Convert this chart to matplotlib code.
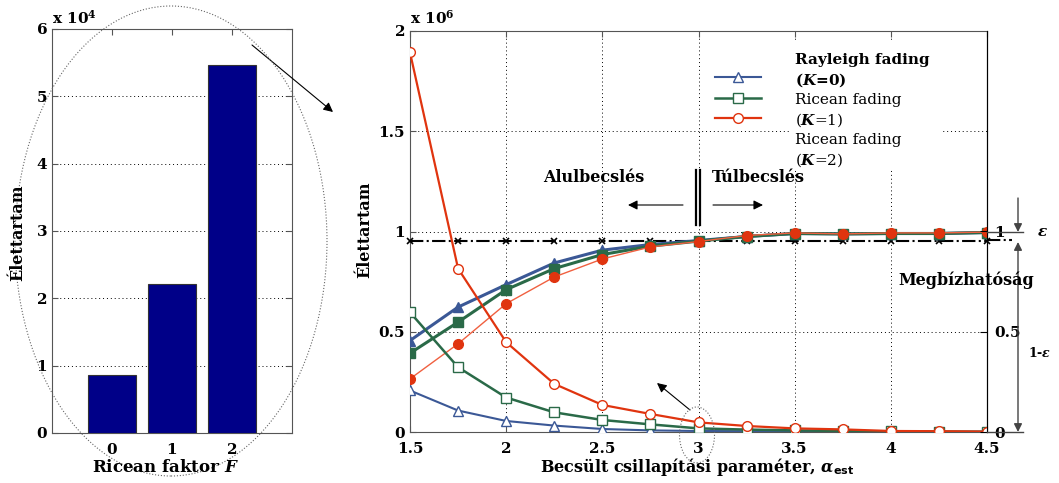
import matplotlib.pyplot as plt
from matplotlib.patches import Ellipse, Rectangle, FancyArrowPatch
from matplotlib.lines import Line2D

plt.rcParams['font.family'] = ['DejaVu Serif']
plt.rcParams['font.weight'] = 'bold'
plt.rcParams['mathtext.fontset'] = 'dejavuserif'

W, H = 1059, 483

# bar chart, lifetime in units of 10^4
ricean_k = [0, 1, 2]
lifetime_k = [0.86, 2.21, 5.47]

# line chart, lifetime in units of 10^6
alpha_est = [1.5, 1.75, 2.0, 2.25, 2.5, 2.75, 3.0, 3.25, 3.5, 3.75, 4.0, 4.25, 4.5]
ray_life = [0.207, 0.107, 0.055, 0.032, 0.015, 0.008, 0.005, 0.004, 0.003, 0.002, 0.002, 0.001, 0.001]
rice1_life = [0.597, 0.323, 0.172, 0.098, 0.060, 0.038, 0.018, 0.012, 0.008, 0.005, 0.003, 0.002, 0.001]
rice2_life = [1.893, 0.815, 0.448, 0.240, 0.135, 0.090, 0.048, 0.030, 0.018, 0.013, 0.005, 0.004, 0.002]
ray_rel = [0.456, 0.623, 0.735, 0.843, 0.907, 0.935, 0.955, 0.975, 0.990, 0.988, 0.990, 0.990, 0.995]
rice1_rel = [0.393, 0.548, 0.710, 0.815, 0.885, 0.927, 0.952, 0.975, 0.990, 0.988, 0.990, 0.990, 0.995]
rice2_rel = [0.265, 0.440, 0.640, 0.773, 0.863, 0.923, 0.950, 0.980, 0.993, 0.988, 0.993, 0.993, 0.997]
rel_target = 0.955

blue = '#3b5896'
green = '#2a6a48'
red = '#e0340f'
frame = '#555555'
grid_ls = (0, (1, 3))


def fx(px):
    return px / W


def fy(py):
    return 1 - py / H


fig = plt.figure(figsize=(W / 100, H / 100), dpi=100)

# ---- left: bar chart
ax1 = fig.add_axes([fx(52), fy(433), 240 / W, 404 / H])
ax1.bar(ricean_k, lifetime_k, width=0.8, color='#000088', edgecolor='#333333', lw=0.8, zorder=3)
ax1.set_xlim(-1, 3)
ax1.set_ylim(0, 6)
ax1.set_xticks(ricean_k)
ax1.set_yticks(range(7))
ax1.grid(axis='y', ls=grid_ls, color='k', lw=0.7)
ax1.tick_params(direction='in', top=True, right=True, labelsize=11, length=4, color=frame)
ax1.tick_params(axis='x', pad=7)
for s in ax1.spines.values():
    s.set_color(frame)
fig.text(fx(52), fy(18), 'x 10$^{4}$', fontsize=11, va='center', ha='left')
fig.text(fx(18), fy(233), 'Élettartam', rotation=90, fontsize=11.5, va='center', ha='center')
fig.text(fx(166), fy(467), 'Ricean faktor $F$', fontsize=12, va='center', ha='center')

# ---- right: line chart
ax2 = fig.add_axes([fx(410), fy(432), 577 / W, 401 / H])
ax2.plot(alpha_est, ray_rel, color=blue, lw=2.2, marker='^', ms=7, mfc=blue, zorder=4)
ax2.plot(alpha_est, rice1_rel, color=green, lw=2.2, marker='s', ms=7, mfc=green, zorder=4)
ax2.plot(alpha_est, rice2_rel, color='#f06040', lw=1, marker='o', ms=7, mfc=red, mec=red, zorder=4)
l1, = ax2.plot(alpha_est, ray_life, color=blue, lw=1.5, marker='^', ms=7, mfc='white', zorder=4)
l2, = ax2.plot(alpha_est, rice1_life, color=green, lw=1.8, marker='s', ms=7, mfc='white', zorder=4)
l3, = ax2.plot(alpha_est, rice2_life, color=red, lw=1.6, marker='o', ms=7, mfc='white', zorder=4)
ax2.plot(alpha_est, [rel_target] * len(alpha_est), color='k', ls='-.', lw=1.5,
         marker='x', ms=4, mew=1.2, clip_on=False, zorder=3)
ax2.set_xlim(1.5, 4.5)
ax2.set_ylim(0, 2)
ax2.set_xticks([1.5, 2, 2.5, 3, 3.5, 4, 4.5])
ax2.set_xticklabels(['1.5', '2', '2.5', '3', '3.5', '4', '4.5'])
ax2.set_yticks([0, 0.5, 1, 1.5, 2])
ax2.set_yticklabels(['0', '0.5', '1', '1.5', '2'])
ax2.grid(ls=grid_ls, color='k', lw=0.7)
ax2.tick_params(direction='in', top=True, right=False, labelsize=11, length=4, color=frame)
ax2.tick_params(axis='x', pad=7)
for s in ax2.spines.values():
    s.set_color(frame)
ax2.spines['right'].set_color('k')

ax3 = ax2.twinx()
ax3.set_ylim(0, 2)
ax3.set_yticks([0, 0.5, 1])
ax3.set_yticklabels(['0', '0.5', '1'])
ax3.tick_params(direction='in', labelsize=11, length=5, pad=5)
ax3.spines['right'].set_color('k')
for k in ['left', 'top', 'bottom']:
    ax3.spines[k].set_visible(False)

fig.text(fx(410), fy(18), 'x 10$^{6}$', fontsize=11, va='center', ha='left')
fig.text(fx(365), fy(230), 'Élettartam', rotation=90, fontsize=11.5, va='center', ha='center')
fig.text(fx(697), fy(467), r'Becsült csillapítási paraméter, $\alpha_{\mathsf{est}}$',
         fontsize=11.5, va='center', ha='center')

# legend: handles only, the texts are set beside them
ax2.add_patch(Rectangle((0.659, 0.653), 0.263, 0.325, transform=ax2.transAxes,
                        facecolor='white', edgecolor='none', zorder=2))
leg = ax2.legend([l1, l2, l3], ['', '', ''], loc='upper left', bbox_to_anchor=(0.51, 0.928),
                 frameon=False, handlelength=3.3, handletextpad=0, labelspacing=0.47,
                 borderpad=0.3, fontsize=10)
leg.set_zorder(5)
leg_lines = [('Rayleigh fading', 'bold', 60), ('($K$=0)', 'bold', 80),
             ('Ricean fading', 'normal', 100), ('($K$=1)', 'normal', 120),
             ('Ricean fading', 'normal', 140), ('($K$=2)', 'normal', 160)]
for txt, wt, py in leg_lines:
    fig.text(fx(795), fy(py), txt, fontsize=11, fontweight=wt, va='center', ha='left')

# annotations
fig.text(fx(594), fy(177), 'Alulbecslés', fontsize=11.5, va='center', ha='center')
fig.text(fx(758), fy(177), 'Túlbecslés', fontsize=11.5, va='center', ha='center')
fig.text(fx(966), fy(280), 'Megbízhatóság', fontsize=11.5, va='center', ha='center')
fig.text(fx(1042), fy(232), r'$\varepsilon$', fontsize=11, va='center', ha='center')
fig.text(fx(1040), fy(353), r'1-$\varepsilon$', fontsize=9, va='center', ha='center')


def arrow(p0, p1, style='-|>', color='k', lw=0.8, ms=14):
    fig.add_artist(FancyArrowPatch((fx(p0[0]), fy(p0[1])), (fx(p1[0]), fy(p1[1])),
                                   transform=fig.transFigure, arrowstyle=style,
                                   mutation_scale=ms, lw=lw, color=color,
                                   shrinkA=0, shrinkB=0))


def seg(p0, p1, **kw):
    fig.add_artist(Line2D([fx(p0[0]), fx(p1[0])], [fy(p0[1]), fy(p1[1])],
                          transform=fig.transFigure, **kw))


arrow((252, 45), (333, 112))
arrow((690, 410), (657, 383))
arrow((683, 205), (628, 205))
arrow((713, 205), (763, 205))
seg((695.5, 170), (695.5, 225), color='k', lw=1.6)
seg((700, 170), (700, 225), color='k', lw=1.6)

seg((987, 232), (1023, 232), color='#444444', lw=1)
seg((987, 432), (1023, 432), color='#444444', lw=1)
seg((987, 240), (1012, 240), color='k', lw=1.5, ls='-.')
arrow((1018, 198), (1018, 232), color='#444444', lw=1, ms=12)
arrow((1018, 242), (1018, 432), style='<|-|>', color='#444444', lw=1, ms=12)

fig.add_artist(Ellipse((fx(171), fy(241)), 312 / W, 470 / H, transform=fig.transFigure,
                       fill=False, ls=':', lw=0.8, edgecolor='#666666'))
fig.add_artist(Ellipse((fx(697), fy(435)), 35 / W, 56 / H, transform=fig.transFigure,
                       fill=False, ls=':', lw=0.8, edgecolor='#666666'))

fig.savefig('out.png', dpi=100)
